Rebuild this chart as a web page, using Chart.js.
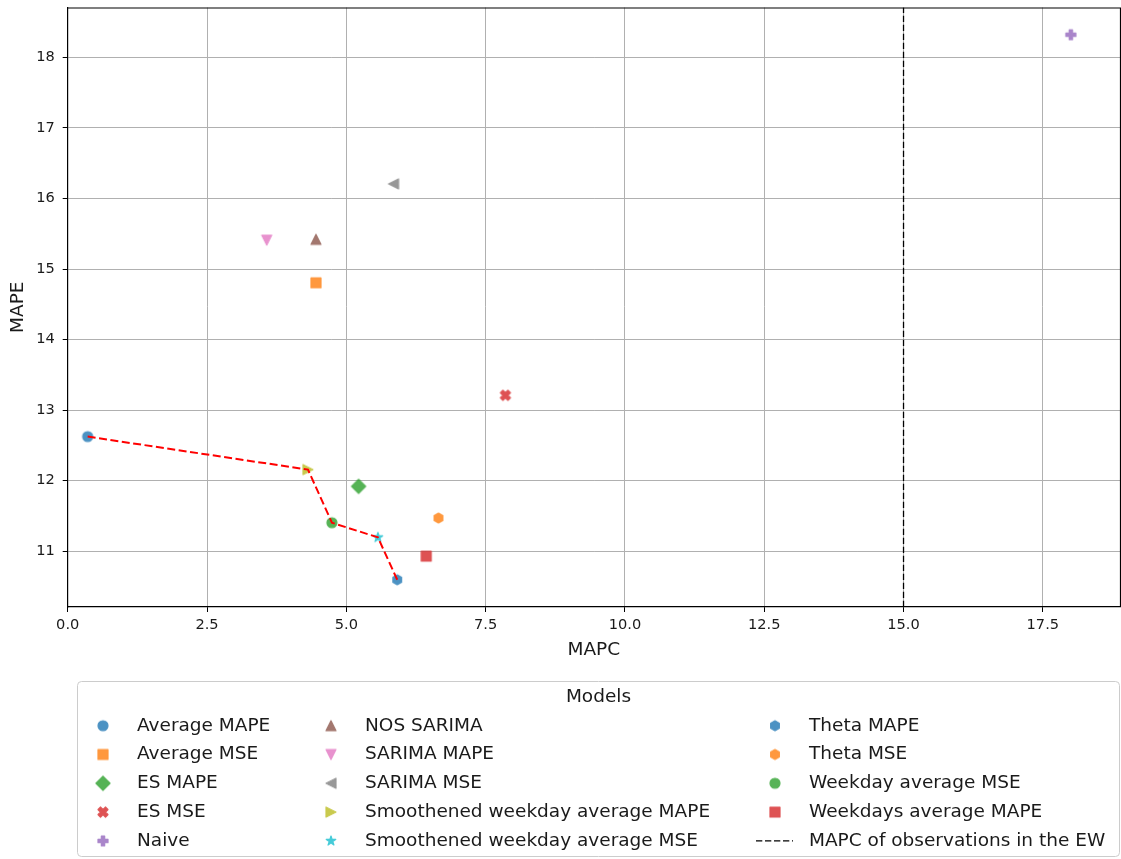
<!DOCTYPE html>
<html>
<head>
<meta charset="utf-8">
<script src="https://cdn.jsdelivr.net/npm/chart.js@4.4.1/dist/chart.umd.min.js"></script>
<style>
html, body { margin: 0; padding: 0; background: #fff; }
#wrap { width: 1121px; height: 859px; }
</style>
</head>
<body>
<div id="wrap"><canvas id="chart"></canvas></div>
<script>
// models and their scores (MAPC on x, MAPE on y)
var models = ['Average MAPE', 'Average MSE', 'ES MAPE', 'ES MSE', 'Naive', 'NOS SARIMA',
    'SARIMA MAPE', 'SARIMA MSE', 'Smoothened weekday average MAPE', 'Smoothened weekday average MSE',
    'Theta MAPE', 'Theta MSE', 'Weekday average MSE', 'Weekdays average MAPE'];
var mapc = [0.358, 4.455, 5.22, 7.855, 18.003, 4.455, 3.572, 5.848, 4.312, 5.567, 5.914, 6.654, 4.742, 6.434];
var mape = [12.624, 14.805, 11.919, 13.21, 18.322, 15.42, 15.41, 16.207, 12.156, 11.195, 10.594, 11.469, 11.403, 10.929];

// models on the pareto front, in drawing order
var paretoModels = ['Average MAPE', 'Smoothened weekday average MAPE', 'Weekday average MSE',
    'Smoothened weekday average MSE', 'Theta MAPE'];

var ewMapc = 15;
var ewLabel = 'MAPC of observations in the EW';

var xTicks = [0, 2.5, 5, 7.5, 10, 12.5, 15, 17.5];
var yTicks = [11, 12, 13, 14, 15, 16, 17, 18];
var xRange = [0, 18.885];
var yRange = [10.208, 18.708];

// marker look for each model
var markers = ['o', 's', 'D', 'X', 'P', '^', 'v', '<', '>', '*', 'h', 'h', 'o', 's'];
var colors = ['#1f77b4', '#ff7f0e', '#2ca02c', '#d62728', '#9467bd', '#8c564b', '#e377c2',
    '#7f7f7f', '#bcbd22', '#17becf', '#1f77b4', '#ff7f0e', '#2ca02c', '#d62728'];

var FONT = "'DejaVu Sans', sans-serif";
var TEXT = '#1a1a1a';
var MS = 10;

function polyPts(ctx, pts, k){
    ctx.moveTo(pts[0][0]*k, pts[0][1]*k);
    for(var i = 1; i < pts.length; i++){
        ctx.lineTo(pts[i][0]*k, pts[i][1]*k);
    }
}

function markerPath(ctx, shape, m){
    var h = m/2;
    ctx.beginPath();
    if(shape == 'o'){
        ctx.arc(0, 0, h, 0, Math.PI*2);
    }
    else if(shape == 's'){
        ctx.rect(-h, -h, m, m);
    }
    else if(shape == 'D'){
        var d = h*Math.SQRT2;
        polyPts(ctx, [[0,-d],[d,0],[0,d],[-d,0]], 1);
    }
    else if(shape == '^'){
        polyPts(ctx, [[0,-h],[h,h],[-h,h]], 1);
    }
    else if(shape == 'v'){
        polyPts(ctx, [[0,h],[h,-h],[-h,-h]], 1);
    }
    else if(shape == '<'){
        polyPts(ctx, [[-h,0],[h,-h],[h,h]], 1);
    }
    else if(shape == '>'){
        polyPts(ctx, [[h,0],[-h,-h],[-h,h]], 1);
    }
    else if(shape == '*'){
        var pts = [];
        for(var i = 0; i < 10; i++){
            var r = (i % 2 == 0) ? h : h*0.381966;
            var a = -Math.PI/2 + i*Math.PI/5;
            pts.push([r*Math.cos(a), r*Math.sin(a)]);
        }
        polyPts(ctx, pts, 1);
    }
    else if(shape == 'h'){
        var pts = [];
        for(var i = 0; i < 6; i++){
            var a = -Math.PI/2 + i*Math.PI/3;
            pts.push([h*Math.cos(a), h*Math.sin(a)]);
        }
        polyPts(ctx, pts, 1);
    }
    else if(shape == 'P'){
        polyPts(ctx, [[-1,-3],[1,-3],[1,-1],[3,-1],[3,1],[1,1],[1,3],[-1,3],[-1,1],[-3,1],[-3,-1],[-1,-1]], m/6);
    }
    else if(shape == 'X'){
        polyPts(ctx, [[-1,-2],[0,-1],[1,-2],[2,-1],[1,0],[2,1],[1,2],[0,1],[-1,2],[-2,1],[-1,0],[-2,-1]], m/4);
    }
    ctx.closePath();
}

// draws the marker opaque, then copies it with alpha so edge and face blend as one
function makeMarker(shape, color){
    var S = 22;
    var a = document.createElement('canvas');
    a.width = S; a.height = S;
    var c = a.getContext('2d');
    c.translate(S/2, S/2);
    markerPath(c, shape, MS);
    c.fillStyle = color;
    c.strokeStyle = color;
    c.lineWidth = 1.2;
    c.lineJoin = 'round';
    c.fill();
    c.stroke();
    var b = document.createElement('canvas');
    b.width = S; b.height = S;
    var c2 = b.getContext('2d');
    c2.globalAlpha = 0.8;
    c2.drawImage(a, 0, 0);
    return b;
}

var datasets = [];
for(var i = 0; i < models.length; i++){
    datasets.push({
        label: models[i],
        data: [{x: mapc[i], y: mape[i]}],
        pointStyle: makeMarker(markers[i], colors[i]),
        pointRadius: 6,
        order: 1
    });
}

datasets.push({
    label: ewLabel,
    data: [{x: ewMapc, y: yRange[0]}, {x: ewMapc, y: yRange[1]}],
    showLine: true,
    pointRadius: 0,
    borderColor: '#000',
    borderWidth: 1.3,
    borderDash: [6.3, 2.7],
    legendLine: true,
    order: 2
});

datasets.push({
    label: 'Pareto front',
    data: paretoModels.map(function(name){
        var k = models.indexOf(name);
        return {x: mapc[k], y: mape[k]};
    }),
    showLine: true,
    pointRadius: 0,
    borderColor: '#ff0000',
    borderWidth: 2,
    borderDash: [8, 3.5],
    hideInLegend: true,
    order: -1
});

// top and right spines
var framePlugin = {
    id: 'frame',
    afterDatasetsDraw: function(chart){
        var ctx = chart.ctx, a = chart.chartArea;
        ctx.save();
        ctx.strokeStyle = '#000';
        ctx.lineWidth = 1.2;
        ctx.beginPath();
        ctx.moveTo(a.left, a.top + 0.5);
        ctx.lineTo(a.right + 0.5, a.top + 0.5);
        ctx.lineTo(a.right + 0.5, a.bottom);
        ctx.stroke();
        ctx.restore();
    }
};

// legend box under the plot, filled column by column
var legendBox = {left: 77.5, top: 681.5, right: 1119.5, bottom: 856.5};
var legendCols = [{marker: 103, text: 137}, {marker: 331, text: 365}, {marker: 775, text: 809}];
var legendRow0 = 725.7;
var legendRowStep = 28.8;

function roundRect(ctx, x0, y0, x1, y1, r){
    ctx.beginPath();
    ctx.moveTo(x0 + r, y0);
    ctx.lineTo(x1 - r, y0);
    ctx.arcTo(x1, y0, x1, y0 + r, r);
    ctx.lineTo(x1, y1 - r);
    ctx.arcTo(x1, y1, x1 - r, y1, r);
    ctx.lineTo(x0 + r, y1);
    ctx.arcTo(x0, y1, x0, y1 - r, r);
    ctx.lineTo(x0, y0 + r);
    ctx.arcTo(x0, y0, x0 + r, y0, r);
    ctx.closePath();
}

var legendPlugin = {
    id: 'modelsLegend',
    afterDraw: function(chart){
        var ctx = chart.ctx;
        ctx.save();
        roundRect(ctx, legendBox.left, legendBox.top, legendBox.right, legendBox.bottom, 4);
        ctx.fillStyle = 'rgba(255,255,255,0.8)';
        ctx.fill();
        ctx.strokeStyle = '#cccccc';
        ctx.lineWidth = 1;
        ctx.stroke();

        ctx.fillStyle = TEXT;
        ctx.font = '18.5px ' + FONT;
        ctx.textBaseline = 'middle';
        ctx.textAlign = 'center';
        ctx.fillText('Models', (legendBox.left + legendBox.right)/2, 697);

        ctx.textAlign = 'left';
        var items = chart.data.datasets.filter(function(d){ return !d.hideInLegend; });
        for(var i = 0; i < items.length; i++){
            var col = legendCols[Math.floor(i/5)];
            var y = legendRow0 + (i % 5)*legendRowStep;
            var d = items[i];
            if(d.legendLine){
                ctx.save();
                ctx.strokeStyle = d.borderColor;
                ctx.lineWidth = d.borderWidth;
                ctx.setLineDash(d.borderDash);
                ctx.beginPath();
                ctx.moveTo(col.marker - 19, y);
                ctx.lineTo(col.marker + 18, y);
                ctx.stroke();
                ctx.restore();
            }
            else{
                var img = d.pointStyle;
                ctx.drawImage(img, col.marker - img.width/2, y - img.height/2);
            }
            ctx.fillStyle = TEXT;
            ctx.fillText(d.label, col.text, y);
        }
        ctx.restore();
    }
};

Chart.defaults.font.family = FONT;
Chart.defaults.color = TEXT;

var ctx = document.getElementById('chart').getContext('2d');
var myChart = new Chart(ctx, {
    type: 'scatter',
    data: { datasets: datasets },
    options: {
        responsive: true,
        maintainAspectRatio: false,
        animation: false,
        layout: { autoPadding: false, padding: { top: 7.5, right: 1, bottom: 192, left: 0 } },
        plugins: {
            legend: { display: false },
            tooltip: { enabled: false }
        },
        scales: {
            x: {
                type: 'linear',
                min: xRange[0],
                max: xRange[1],
                afterBuildTicks: function(axis){
                    axis.ticks = xTicks.map(function(v){ return {value: v}; });
                },
                afterFit: function(axis){
                    axis.height = 60;
                    axis.paddingLeft = 0;
                    axis.paddingRight = 0;
                },
                ticks: {
                    callback: function(v){ return Number(v).toFixed(1); },
                    font: { size: 14.6 },
                    color: TEXT,
                    padding: 4,
                    maxRotation: 0,
                    autoSkip: false
                },
                grid: { color: '#b0b0b0', lineWidth: 1, tickColor: '#000', tickLength: 5 },
                border: { color: '#000', width: 1.2 },
                title: { display: true, text: 'MAPC', font: { size: 18.5 }, color: TEXT, padding: { top: 0, bottom: 6 } }
            },
            y: {
                type: 'linear',
                min: yRange[0],
                max: yRange[1],
                afterBuildTicks: function(axis){
                    axis.ticks = yTicks.map(function(v){ return {value: v}; });
                },
                afterFit: function(axis){
                    axis.width = 67.7;
                    axis.paddingTop = 0;
                    axis.paddingBottom = 0;
                },
                ticks: {
                    callback: function(v){ return String(v); },
                    font: { size: 14.6 },
                    color: TEXT,
                    padding: 8,
                    autoSkip: false
                },
                grid: { color: '#b0b0b0', lineWidth: 1, tickColor: '#000', tickLength: 5 },
                border: { color: '#000', width: 1.2 },
                title: { display: true, text: 'MAPE', font: { size: 18.5 }, color: TEXT, padding: { top: 7.4, bottom: 0 } }
            }
        }
    },
    plugins: [framePlugin, legendPlugin]
});
</script>
</body>
</html>
